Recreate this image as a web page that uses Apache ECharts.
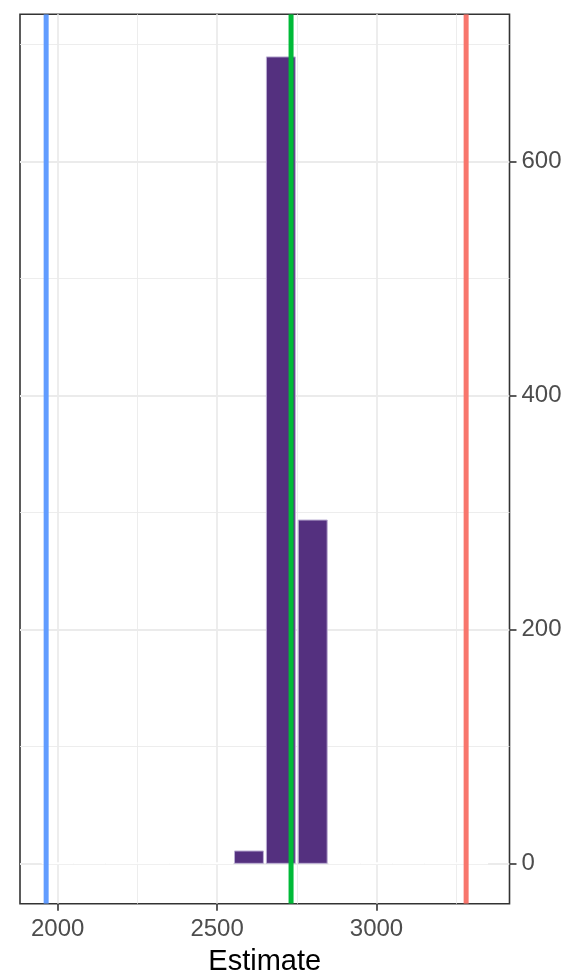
<!DOCTYPE html>
<html>
<head>
<meta charset="utf-8">
<script src="https://cdn.jsdelivr.net/npm/echarts@6/dist/echarts.min.js"></script>
<style>
  html, body { margin: 0; padding: 0; background: #fff; }
  #chart { width: 567px; height: 977px; }
</style>
</head>
<body>
<div id="chart"></div>
<script>
// histogram bins (centre, width 100) and counts
const binCenters = [2000, 2100, 2200, 2300, 2400, 2500, 2600, 2700, 2800, 2900, 3000, 3100, 3200, 3300];
const binCounts  = [0, 0, 0, 0, 0, 0, 11, 690, 294, 0, 0, 0, 0, 0];
const binWidth = 100;

// reference lines
const vlineValues = [1964, 2732, 3281];
const vlineColors = ['#619CFF', '#00BA38', '#F8766D'];

// axis ticks
const xMajor = [2000, 2500, 3000];
const xMinor = [2250, 2750, 3250];
const yMajor = [0, 200, 400, 600];
const yMinor = [100, 300, 500, 700];
const xRange = [1882, 3417];
const yRange = [-34.5, 726];

const chart = echarts.init(document.getElementById('chart'));

const option = {
  animation: false,
  textStyle: { fontFamily: 'Liberation Sans, Arial, sans-serif' },
  grid: {
    left: 20, right: 57.5, top: 14.3, bottom: 73.3,
    outerBoundsMode: 'none',
    containLabel: false,
    show: true, borderColor: '#333333', borderWidth: 1.6,
    backgroundColor: 'transparent'
  },
  xAxis: [
    {
      type: 'value', min: xRange[0], max: xRange[1], position: 'bottom',
      name: 'Estimate', nameLocation: 'middle', nameGap: 44,
      nameTextStyle: { fontSize: 29, color: '#000' },
      axisLine: { show: false, onZero: false },
      axisTick: { show: true, length: 7, customValues: xMajor, lineStyle: { color: '#333', width: 1.6 } },
      axisLabel: { customValues: xMajor, fontSize: 24, color: '#4D4D4D', margin: 14,
                   formatter: v => String(v) },
      splitLine: { show: true, lineStyle: { color: '#EBEBEB', width: 1.8 } }
    },
    {
      type: 'value', min: xRange[0], max: xRange[1], position: 'top',
      axisLine: { show: false, onZero: false },
      axisTick: { show: false, customValues: xMinor },
      axisLabel: { show: false },
      splitLine: { show: true, lineStyle: { color: '#EBEBEB', width: 0.9 } }
    }
  ],
  yAxis: [
    {
      type: 'value', min: yRange[0], max: yRange[1], position: 'right',
      axisLine: { show: false, onZero: false },
      axisTick: { show: true, length: 7, customValues: yMajor, lineStyle: { color: '#333', width: 1.6 } },
      axisLabel: { customValues: yMajor, fontSize: 24, color: '#4D4D4D', margin: 12,
                   formatter: v => String(v) },
      splitLine: { show: true, lineStyle: { color: '#EBEBEB', width: 1.8 } }
    },
    {
      type: 'value', min: yRange[0], max: yRange[1], position: 'left',
      axisLine: { show: false, onZero: false },
      axisTick: { show: false, customValues: yMinor },
      axisLabel: { show: false },
      splitLine: { show: true, lineStyle: { color: '#EBEBEB', width: 0.9 } }
    }
  ],
  series: [
    {
      type: 'custom',
      xAxisIndex: 0, yAxisIndex: 0,
      clip: true,
      data: binCenters.map((c, i) => [c, binCounts[i]]),
      renderItem: function (params, api) {
        const c = api.value(0), n = api.value(1);
        const p0 = api.coord([c - binWidth / 2, n]);
        const p1 = api.coord([c + binWidth / 2, 0]);
        if (n === 0) {
          return {
            type: 'line',
            shape: { x1: p0[0], y1: p1[1], x2: p1[0], y2: p1[1] },
            style: { stroke: '#ffffff', lineWidth: 2 }
          };
        }
        return {
          type: 'rect',
          shape: { x: p0[0] + 1.5, y: p0[1] + 0.5, width: p1[0] - p0[0] - 3, height: p1[1] - p0[1] - 0.5 },
          style: { fill: '#54307F', stroke: '#BBAED3', lineWidth: 1 }
        };
      }
    },
    {
      type: 'custom',
      xAxisIndex: 0, yAxisIndex: 0,
      clip: true,
      z: 5,
      data: vlineValues.map(v => [v]),
      renderItem: function (params, api) {
        const v = api.value(0);
        const top = api.coord([v, yRange[1]]);
        const bot = api.coord([v, yRange[0]]);
        return {
          type: 'line',
          shape: { x1: top[0], y1: top[1], x2: bot[0], y2: bot[1] },
          style: { stroke: vlineColors[params.dataIndex], lineWidth: 5 }
        };
      }
    }
  ]
};

chart.setOption(option);
</script>
</body>
</html>
